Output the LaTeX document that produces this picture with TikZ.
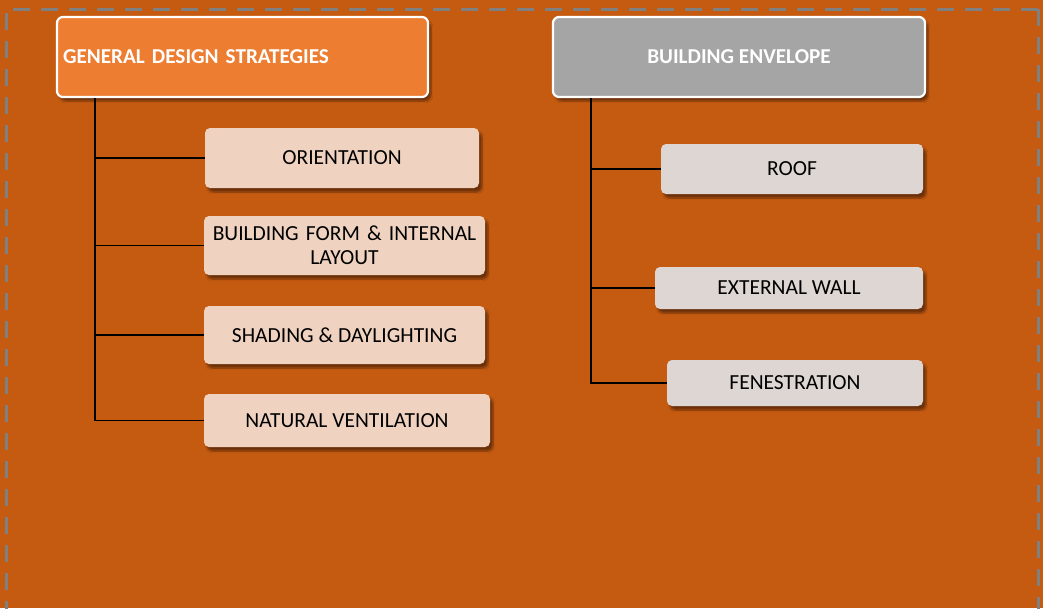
\documentclass[tikz,border=0pt]{standalone}
\usepackage{fontspec}
\setmainfont{Carlito}
\usetikzlibrary{shadows.blur}
\definecolor{bgor}{HTML}{C55A11}
\definecolor{hdor}{HTML}{ED7D31}
\definecolor{hdgr}{HTML}{A5A5A5}
\definecolor{chor}{HTML}{EFD3C0}
\definecolor{chgr}{HTML}{DDD6D2}
\definecolor{dashgr}{HTML}{808080}
\tikzset{
  hdbox/.style={draw=white, line width=2.2pt, rounded corners=6pt, text=white,
    font=\fontsize{21.2}{24}\selectfont\bfseries,
    blur shadow={shadow xshift=3pt, shadow yshift=-4pt, shadow blur steps=6, shadow opacity=45}},
  chbox/.style={rounded corners=5pt, text=black, align=center,
    font=\fontsize{21.5}{24}\selectfont,
    blur shadow={shadow xshift=3pt, shadow yshift=-4pt, shadow blur steps=6, shadow opacity=45}},
  conn/.style={draw=black, line width=1.3pt}
}
\begin{document}
\begin{tikzpicture}[x=1pt,y=-1pt]
\useasboundingbox (0,0) rectangle (1043,608);
\fill[bgor] (0,0) rectangle (1043,608);
\draw[dashgr, line width=3pt, dash pattern=on 17pt off 11pt] (1038,9) -- (6,9) -- (6,640);
\draw[dashgr, line width=3pt, dash pattern=on 17pt off 11pt] (1038,9) -- (1038,640);
% headers
\node[hdbox, fill=hdor, minimum width=371pt, minimum height=80pt, text width=359pt, align=left, inner sep=6pt] (gds) at (242.5,57) {GENERAL DESIGN STRATEGIES};
\node[hdbox, fill=hdgr, minimum width=372pt, minimum height=80pt, align=center] (be) at (739,57) {BUILDING ENVELOPE};
% left children
\node[chbox, fill=chor, minimum width=274pt, minimum height=60pt] (ori) at (342,158) {ORIENTATION};
\node[chbox, fill=chor, minimum width=281pt, minimum height=59pt, text width=275pt, inner sep=2pt] (bf) at (344.5,245.5) {BUILDING FORM \& INTERNAL\\LAYOUT};
\node[chbox, fill=chor, minimum width=281pt, minimum height=58pt] (sd) at (344.5,335) {SHADING \& DAYLIGHTING};
\node[chbox, fill=chor, minimum width=286pt, minimum height=53pt] (nv) at (347,420.5) {NATURAL VENTILATION};
% right children
\node[chbox, fill=chgr, minimum width=262pt, minimum height=50pt] (roof) at (792,169) {ROOF};
\node[chbox, fill=chgr, minimum width=268pt, minimum height=42pt] (ew) at (789,288) {EXTERNAL WALL};
\node[chbox, fill=chgr, minimum width=256pt, minimum height=46pt] (fen) at (795,383) {FENESTRATION};
% connectors
\coordinate (lt) at (95,0);
\coordinate (rt) at (591,0);
\draw[conn] (lt |- gds.south) |- (nv.west);
\draw[conn] (lt |- ori.west) -- (ori.west);
\draw[conn] (lt |- bf.west) -- (bf.west);
\draw[conn] (lt |- sd.west) -- (sd.west);
\draw[conn] (rt |- be.south) |- (fen.west);
\draw[conn] (rt |- roof.west) -- (roof.west);
\draw[conn] (rt |- ew.west) -- (ew.west);
\end{tikzpicture}
\end{document}
